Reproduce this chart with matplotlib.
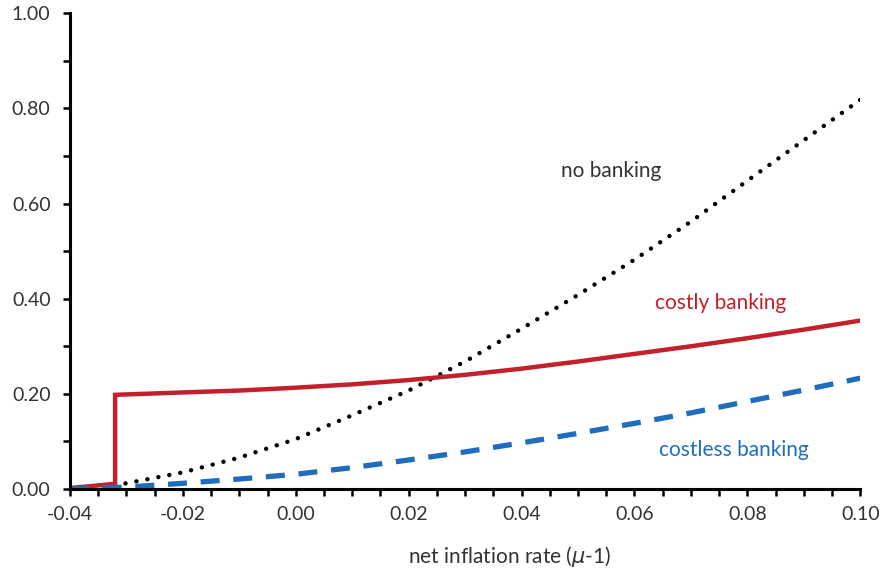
import matplotlib
matplotlib.use('Agg')
import matplotlib.pyplot as plt
from matplotlib.ticker import MultipleLocator, FormatStrFormatter
import numpy as np

plt.rcParams['font.family'] = ['Lato', 'DejaVu Sans']
plt.rcParams['mathtext.fontset'] = 'dejavusans'

# net inflation rate grid
infl = [-0.04, -0.03, -0.02, -0.01, 0.00, 0.01, 0.02, 0.03, 0.04, 0.05, 0.06, 0.07, 0.08, 0.09, 0.10]

no_bank = [0.0, 0.012, 0.035, 0.066, 0.105, 0.155, 0.207, 0.268, 0.337, 0.408, 0.482, 0.562, 0.648, 0.733, 0.818]
costless = [0.0, 0.004, 0.012, 0.021, 0.031, 0.045, 0.061, 0.078, 0.097, 0.117, 0.138, 0.160, 0.184, 0.208, 0.233]

# costly banking: small segment below the threshold, then a jump
costly_x = [-0.04, -0.032, -0.032, -0.02, -0.01, 0.00, 0.01, 0.02, 0.03, 0.04, 0.05, 0.06, 0.07, 0.08, 0.09, 0.10]
costly_y = [0.002, 0.011, 0.198, 0.203, 0.207, 0.213, 0.220, 0.229, 0.240, 0.253, 0.268, 0.284, 0.300, 0.317, 0.335, 0.354]

red = '#C3202B'
blue = '#1F6EBE'

fig = plt.figure(figsize=(8.8, 5.76), dpi=100)
ax = fig.add_axes([0.0795, 0.151, 0.898, 0.826])

ax.plot(infl, no_bank, color='black', linewidth=3.2, linestyle=(0, (0.01, 2.5)),
        dash_capstyle='round', solid_capstyle='round')
ax.plot(costly_x, costly_y, color=red, linewidth=3.2, solid_joinstyle='miter')
ax.plot(infl, costless, color=blue, linewidth=3.8, linestyle=(0, (3.6, 2.6)))

ax.text(0.0558, 0.668, 'no banking', color='#333333', fontsize=15, ha='center', va='center')
ax.text(0.0752, 0.392, 'costly banking', color=red, fontsize=15, ha='center', va='center')
ax.text(0.0776, 0.081, 'costless banking', color=blue, fontsize=15, ha='center', va='center')

ax.set_xlim(-0.04, 0.10)
ax.set_ylim(0, 1.0)
ax.xaxis.set_major_locator(MultipleLocator(0.02))
ax.xaxis.set_minor_locator(MultipleLocator(0.005))
ax.yaxis.set_major_locator(MultipleLocator(0.2))
ax.yaxis.set_minor_locator(MultipleLocator(0.1))
ax.xaxis.set_major_formatter(FormatStrFormatter('%.2f'))
ax.yaxis.set_major_formatter(FormatStrFormatter('%.2f'))

for s in ['top', 'right']:
    ax.spines[s].set_visible(False)
for s in ['left', 'bottom']:
    ax.spines[s].set_linewidth(2.2)

ax.tick_params(which='both', direction='out', length=5, width=1.8, labelsize=14, colors='black',
               labelcolor='#333333')
ax.tick_params(axis='x', pad=7)
ax.tick_params(axis='y', pad=9)

ax.set_xlabel(r'net inflation rate ($\mu$-1)', fontsize=15, color='#333333', va='center')
ax.xaxis.set_label_coords(0.557, -0.142)

fig.savefig('out.png', dpi=100)
